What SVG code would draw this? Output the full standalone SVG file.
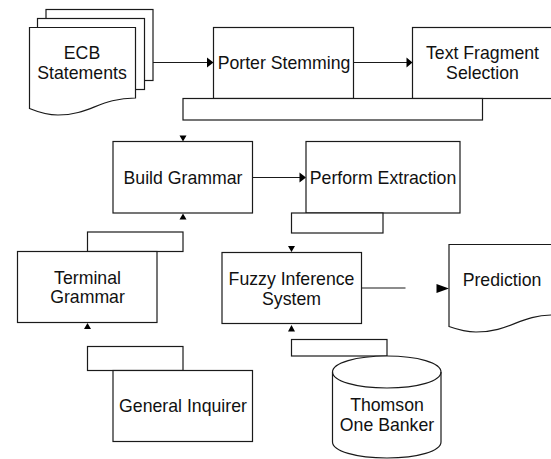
<svg xmlns="http://www.w3.org/2000/svg" width="551" height="459" viewBox="0 0 551 459">
<style>
.s{fill:#fff;stroke:#1a1a1a;stroke-width:1.2}
.o{fill:none;stroke:#1a1a1a;stroke-width:1.2}
.a{fill:#000;stroke:none}
text{font-family:"Liberation Sans",Arial,sans-serif;font-size:17.700px;fill:#111;text-anchor:middle}
</style>
<rect width="551" height="459" fill="#fff"/>
<g id="connectors">
<path class="o" d="M153 62.500H208M353.500 62.500H408M252.500 177.500H301M361.500 288H405.500"/>
<path class="a" d="M207 57.500L213.500 62.500L207 67.500ZM406.500 57.500L412.500 62.500L406.500 67.500ZM299.500 172.500L306 177.500L299.500 182.500ZM436.500 284L449 288.500L436.500 293ZM179.500 135.500H186.500L183 141.500ZM179.500 219.500H186.500L183 213.500ZM288 246H295L291.500 252ZM288 331.500H295L291.500 325ZM84 329H91L87.500 323Z"/>
</g>
<g id="ecb-statements">
<rect class="s" x="46" y="9.500" width="107" height="71"/>
<rect class="s" x="37.500" y="18.500" width="107" height="71"/>
<path class="s" d="M29.500 27.500H135.500V98C100 98 90 115 58 115C48 115 38 112 29.500 108.500Z"/>
<text x="82" y="59">ECB</text><text x="82" y="78.500">Statements</text>
</g>
<g id="porter-stemming">
<rect class="s" x="213.500" y="27.500" width="140" height="71"/>
<text x="284" y="68.500">Porter Stemming</text>
</g>
<g id="text-fragment-selection">
<rect class="s" x="412.500" y="27.500" width="141" height="71"/>
<text x="482.500" y="59">Text Fragment</text><text x="482.500" y="79">Selection</text>
</g>
<g id="text-fragment-label"><rect class="s" x="183" y="98.500" width="299.500" height="21.500"/></g>
<g id="build-grammar">
<rect class="s" x="113" y="141.500" width="139.500" height="71.500"/>
<text x="183" y="183.500">Build Grammar</text>
</g>
<g id="perform-extraction">
<rect class="s" x="306" y="141.500" width="154" height="71.500"/>
<text x="383" y="183.500">Perform Extraction</text>
</g>
<g id="extraction-label"><rect class="s" x="291.500" y="213" width="91.500" height="20"/></g>
<g id="terminal-grammar-label"><rect class="s" x="87.500" y="232" width="95.500" height="19.500"/></g>
<g id="terminal-grammar">
<rect class="s" x="17.500" y="251.500" width="139.500" height="71"/>
<text x="87.500" y="283.500">Terminal</text><text x="87.500" y="303">Grammar</text>
</g>
<g id="fuzzy-inference-system">
<rect class="s" x="222" y="252.500" width="139.500" height="71"/>
<text x="291.500" y="284.500">Fuzzy Inference</text><text x="291.500" y="304.500">System</text>
</g>
<g id="prediction">
<path class="s" d="M449 244.500H553V315C520 315 510 332 476 332C466 332 456 329 449 326.500Z"/>
<text x="502" y="286">Prediction</text>
</g>
<g id="general-inquirer-label"><rect class="s" x="87.500" y="346.500" width="95.500" height="24"/></g>
<g id="general-inquirer">
<rect class="s" x="113" y="370.500" width="139.500" height="71"/>
<text x="183" y="412">General Inquirer</text>
</g>
<g id="thomson-label"><rect class="s" x="291.500" y="339.500" width="95.500" height="16.500"/></g>
<g id="thomson-one-banker">
<path class="s" d="M332.500 372C332.500 363 356 356 387 356S441 363 441 372V442C441 451 418 458 387 458S332.500 451 332.500 442Z"/>
<path class="o" d="M332.500 372C332.500 381 356 388 387 388S441 381 441 372"/>
<text x="387" y="411">Thomson</text><text x="387" y="431">One Banker</text>
</g>
</svg>
